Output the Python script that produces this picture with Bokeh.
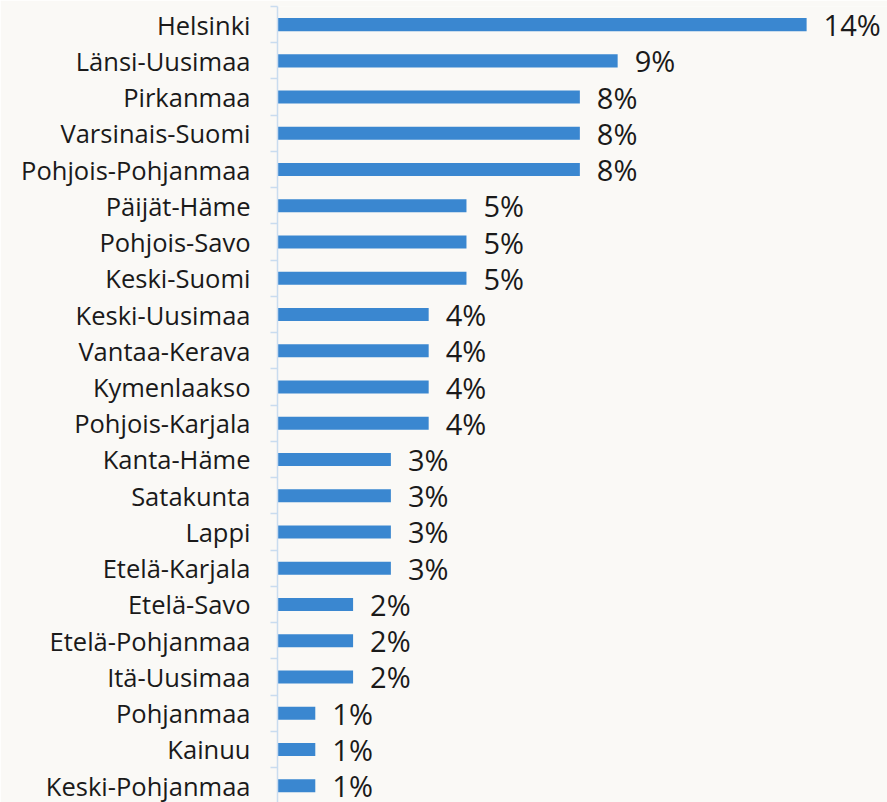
from bokeh.plotting import figure
from bokeh.models import ColumnDataSource, Range1d, FixedTicker
from bokeh.core.properties import value
from bokeh.embed import file_html
from bokeh.resources import INLINE

regions = ["Helsinki", "Länsi-Uusimaa", "Pirkanmaa", "Varsinais-Suomi", "Pohjois-Pohjanmaa",
           "Päijät-Häme", "Pohjois-Savo", "Keski-Suomi", "Keski-Uusimaa", "Vantaa-Kerava",
           "Kymenlaakso", "Pohjois-Karjala", "Kanta-Häme", "Satakunta", "Lappi",
           "Etelä-Karjala", "Etelä-Savo", "Etelä-Pohjanmaa", "Itä-Uusimaa", "Pohjanmaa",
           "Kainuu", "Keski-Pohjanmaa"]
shares = [14, 9, 8, 8, 8, 5, 5, 5, 4, 4, 4, 4, 3, 3, 3, 3, 2, 2, 2, 1, 1, 1]
labels = [f"{v}%" for v in shares]

n = len(regions)
ypos = [n - 1 - i for i in range(n)]
src = ColumnDataSource(dict(y=ypos, v=shares, lab=labels, name=regions))

BG = "#FAF9F6"
AXC = "#C9DCEF"

p = figure(width=887, height=802, output_backend="svg", toolbar_location=None,
           x_range=Range1d(0, 16.14), y_range=Range1d(-0.465, n - 0.5),
           min_border_left=277, min_border_right=0, min_border_top=6, min_border_bottom=0,
           background_fill_color=BG, border_fill_color=BG, outline_line_color=None)

p.hbar(y="y", right="v", left=0, height=0.36, source=src, color="#3A87D0", line_color=None)
p.text(x="v", y="y", text="lab", source=src, x_offset=17, text_baseline="middle",
       text_align="left", text_font=value("Open Sans"), text_font_size="29px",
       text_color="#1A1A1A")

p.xaxis.visible = False
p.grid.visible = False

ax = p.yaxis[0]
ax.ticker = FixedTicker(ticks=ypos, minor_ticks=[k - 0.5 for k in range(n + 1)])
ax.major_label_overrides = {y: r for y, r in zip(ypos, regions)}
ax.major_label_text_font = "Open Sans"
ax.major_label_text_font_size = "25.5px"
ax.major_label_text_color = "#1A1A1A"
ax.major_label_standoff = 20
ax.major_tick_out = 0
ax.major_tick_in = 0
ax.minor_tick_out = 7
ax.minor_tick_in = 0
ax.minor_tick_line_color = AXC
ax.minor_tick_line_width = 1.5
ax.axis_line_color = AXC
ax.axis_line_width = 1.5

open("out.html", "w").write(file_html(p, INLINE))
